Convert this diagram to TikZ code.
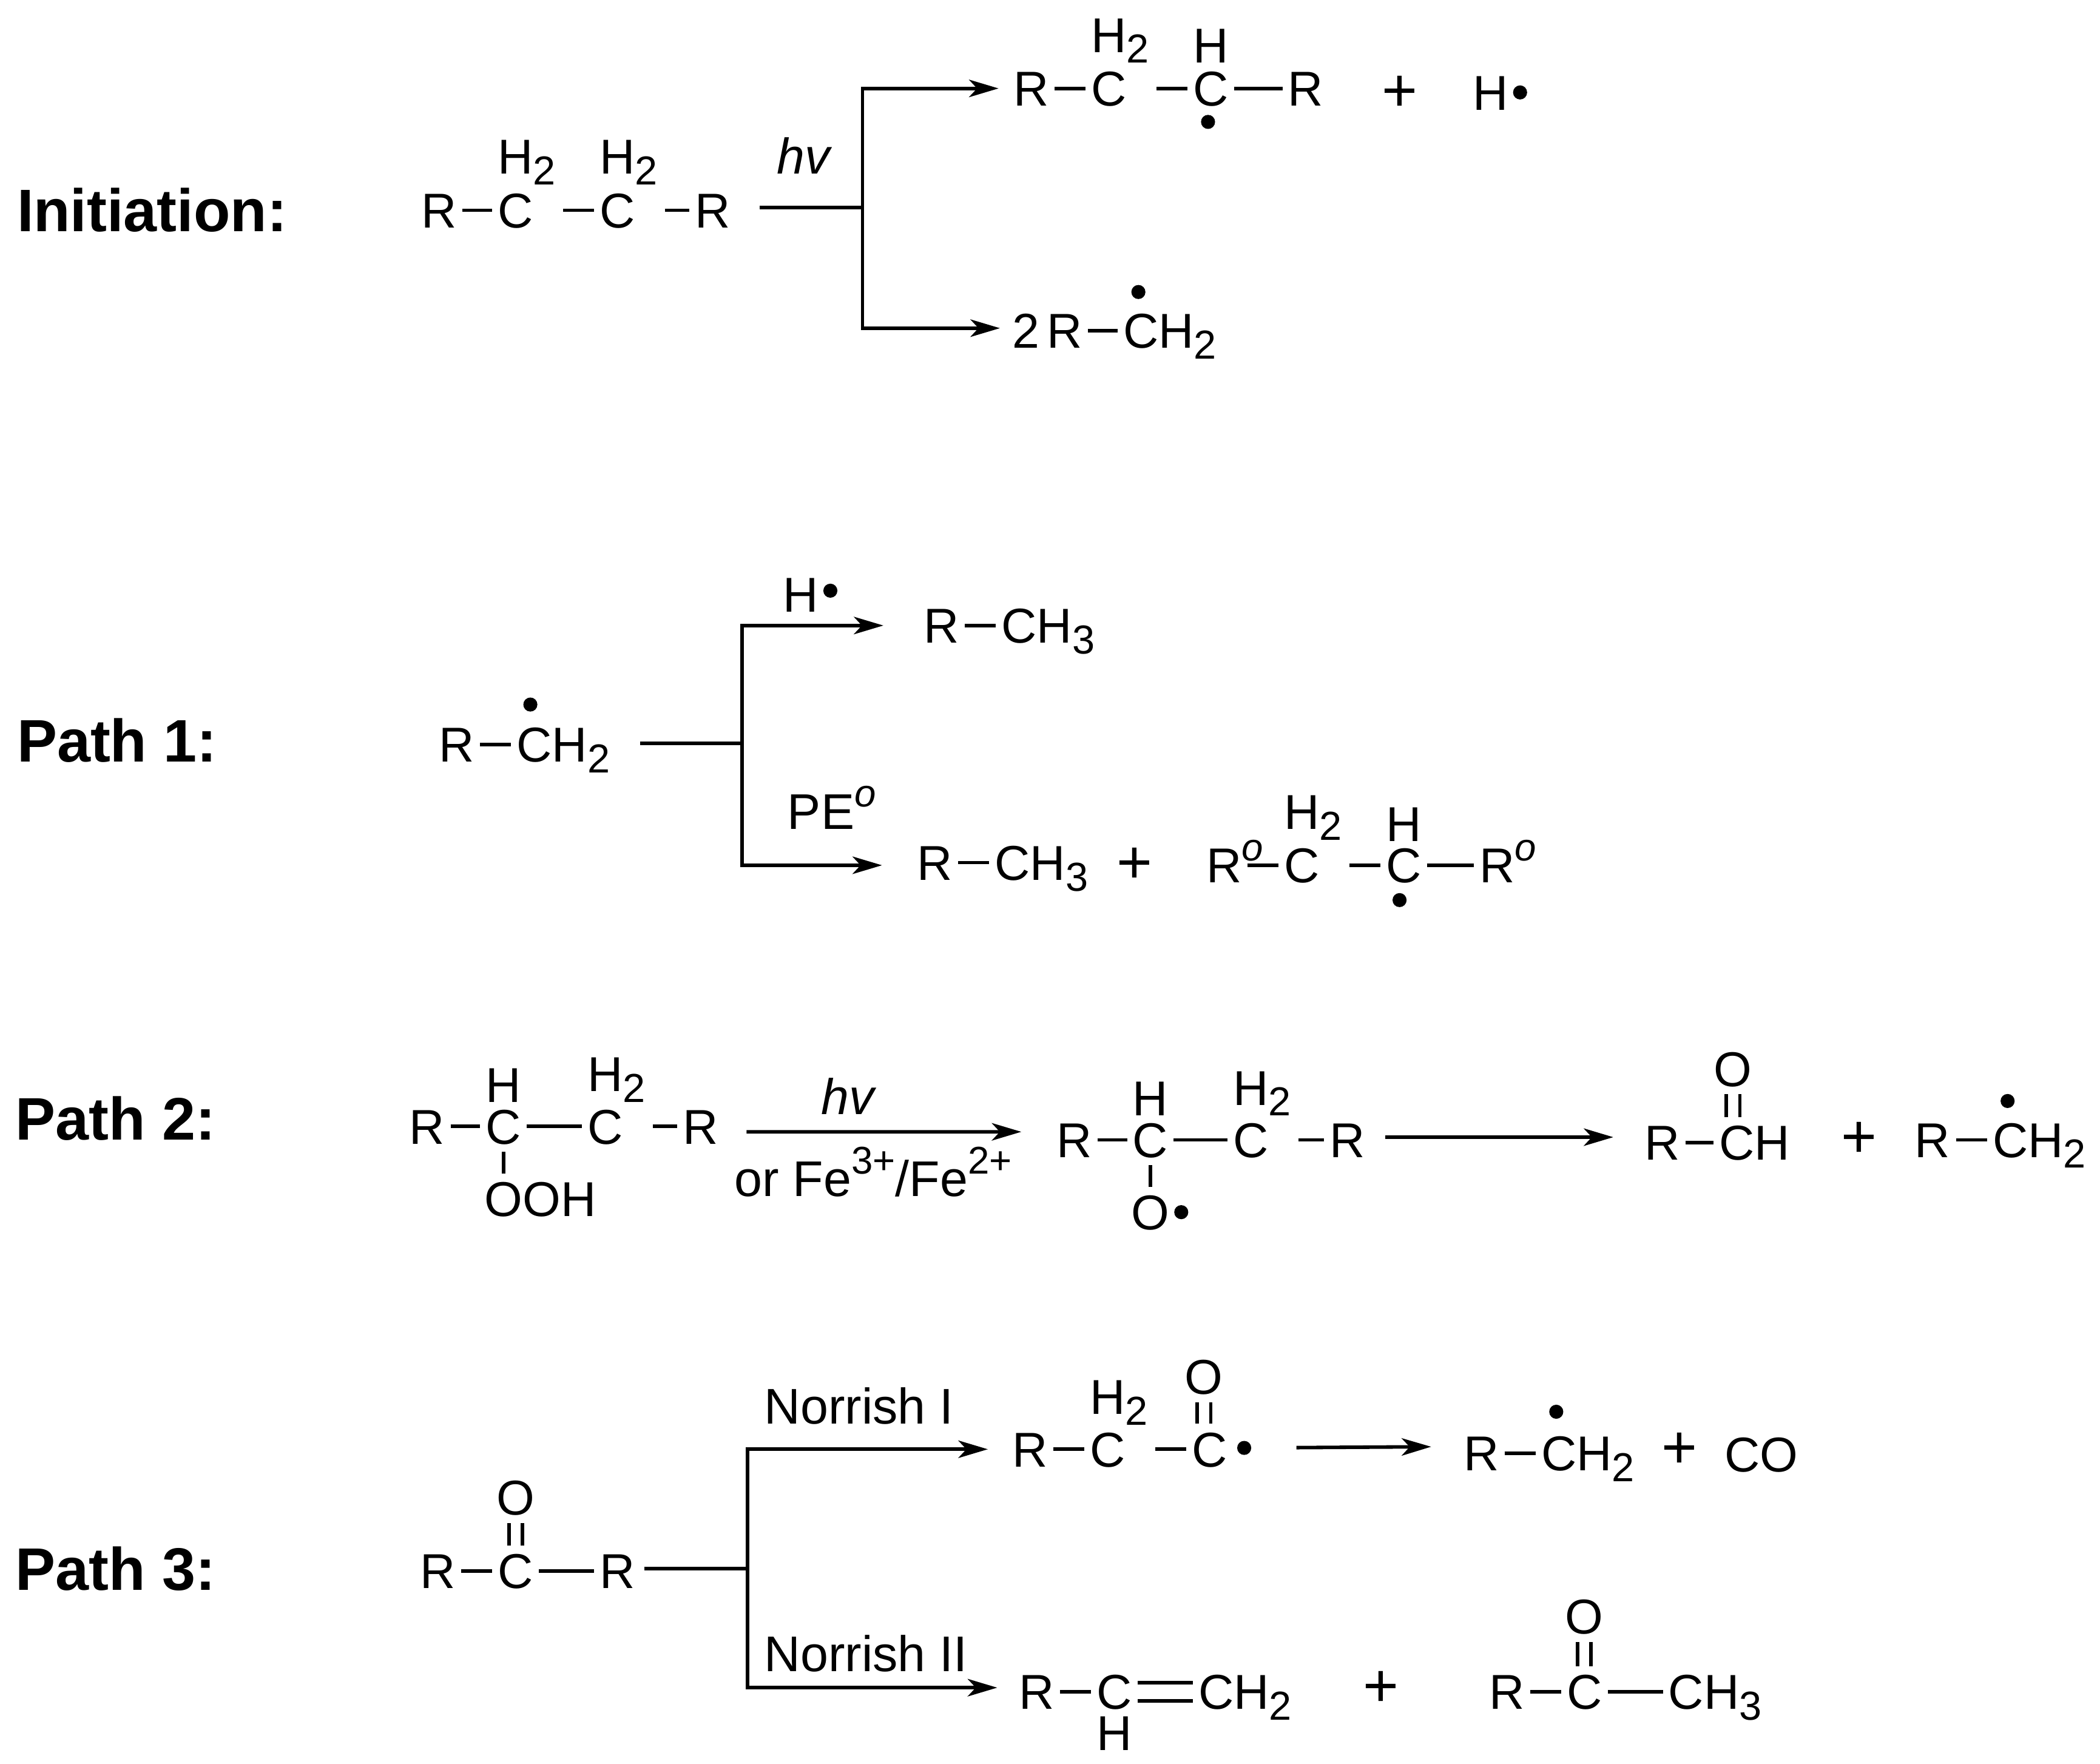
\documentclass[tikz,border=0pt]{standalone}
\usepackage{fontspec}
\setmainfont{Liberation Sans}
\usetikzlibrary{arrows.meta}
\newcommand{\subs}[1]{\raisebox{-2.3pt}{\fontsize{8.6}{9}\selectfont #1}}
\newcommand{\sups}[1]{\raisebox{4.7pt}{\fontsize{8.2}{9}\selectfont #1}}
\tikzset{atom/.style = {inner xsep=1pt, inner ysep=1.5pt, text height=7.4pt, text depth=0pt, font=\fontsize{10.4}{12}\selectfont},
         lbl/.style = {inner sep=0pt, anchor=base, font=\fontsize{10.65}{12}\selectfont},
         titl/.style = {inner sep=0pt, anchor=base west, font=\fontsize{12.75}{14}\selectfont\bfseries},
         plus/.style = {inner sep=0pt, font=\fontsize{13}{14}\selectfont},
         rad/.style = {circle, fill=black, inner sep=0pt, minimum size=1.05mm},
         bond/.style = {line width=.75pt},
         dbond/.style = {line width=.75pt, double, double distance=.75mm},
         hbond/.style = {line width=.75pt, double, double distance=1.1mm},
         gapb/.style = {shorten <=1.8mm},
         rxn/.style = {line width=.75pt, -{Stealth[length=2.2mm,width=1.3mm,inset=.6mm]}}}
\begin{document}
\begin{tikzpicture}[x=.1mm,y=-.1mm]
    \useasboundingbox(0,0)rectangle(1568,1317);

    % initiation
    \node[titl](tI)at(12,173){Initiation:};
    \node[atom](iR1)at(328,157){R};
    \node[atom](iC1)at(385,157){C};
    \node[atom](iH1)at(385,117){H\rlap{\subs{2}}};
    \node[atom](iC2)at(461,157){C};
    \node[atom](iH2)at(461,117){H\rlap{\subs{2}}};
    \node[atom](iR2)at(532,157){R};
    \draw[bond](iR1.east)--(iC1.west);
    \draw[bond,gapb](iC1.east)--(iC2.west);
    \draw[bond,gapb](iC2.east)--(iR2.west);
    \node[lbl](ihv)at(601,130){\textit{hv}};
    \coordinate(is)at(567,155);
    \coordinate(ij)at(644,155);
    \draw[bond](is)--(ij);

    \node[atom](aR1)at(770,66){R};
    \node[atom](aC1)at(828,66){C};
    \node[atom](aH1)at(828,26){H\rlap{\subs{2}}};
    \node[atom](aC2)at(904,66){C};
    \node[atom](aH2)at(904,34){H};
    \node[rad](aD1)at(902,91){};
    \node[atom](aR2)at(975,66){R};
    \node[plus](aP)at(1045,70){+};
    \node[atom](aH3)at(1113,69){H};
    \node[rad](aD2)at(1135,69){};
    \draw[bond](aR1.east)--(aC1.west);
    \draw[bond,gapb](aC1.east)--(aC2.west);
    \draw[bond](aC2.east)--(aR2.west);
    \draw[rxn,shorten >=.7mm](ij)|-(aR1.west);

    \node[atom](bN)at(766,247){2};
    \node[atom](bR)at(795,247){R};
    \node[atom](bC)at(852,247){C\rlap{H\subs{2}}};
    \node[rad](bD)at(850,218){};
    \draw[bond](bR.east)--(bC.west);
    \draw[rxn,shorten >=.5mm](ij)|-([yshift=.2mm]bN.west);

    % path 1
    \node[titl](t1)at(12,569){Path 1:};
    \node[atom](pR)at(341,556){R};
    \node[atom](pC)at(399,556){C\rlap{H\subs{2}}};
    \node[rad](pD)at(396,526){};
    \draw[bond](pR.east)--(pC.west);
    \coordinate(ps)at(478,555);
    \coordinate(pj)at(554,555);
    \draw[bond](ps)--(pj);

    \node[atom](cH)at(598,444){H};
    \node[rad](cD)at(620,441){};
    \node[atom](cR)at(703,467){R};
    \node[atom](cC)at(761,467){C\rlap{H\subs{3}}};
    \draw[bond](cR.east)--(cC.west);
    \draw[rxn,shorten >=2.6mm](pj)|-(cR.west);

    \node[lbl](dPE)at(621,619){PE\sups{\textit{o}}};
    \node[atom](dR)at(698,644){R};
    \node[atom](dC)at(756,644){C\rlap{H\subs{3}}};
    \node[plus](dP)at(847,646){+};
    \node[atom](dR1)at(914,646){R\rlap{\sups{\textit{o}}}};
    \node[atom](dC1)at(972,646){C};
    \node[atom](dH1)at(972,606){H\rlap{\subs{2}}};
    \node[atom](dC2)at(1048,646){C};
    \node[atom](dH2)at(1048,615){H};
    \node[rad](dD)at(1045,672){};
    \node[atom](dR2)at(1118,646){R\rlap{\sups{\textit{o}}}};
    \draw[bond](dR.east)--(dC.west);
    \draw[bond](dR1.east)--(dC1.west);
    \draw[bond,gapb](dC1.east)--(dC2.west);
    \draw[bond](dC2.east)--(dR2.west);
    \draw[rxn,shorten >=2.2mm](pj)|-([yshift=-.2mm]dR.west);

    % path 2
    \node[titl](t2)at(11,851){Path 2:};
    \node[atom](eR1)at(319,841){R};
    \node[atom](eC1)at(376,841){C};
    \node[atom](eH1)at(376,810){H};
    \node[atom](eC2)at(452,841){C};
    \node[atom](eH2)at(452,802){H\rlap{\subs{2}}};
    \node[atom](eR2)at(523,841){R};
    \node[atom](eO)at(376,895){O\rlap{OH}};
    \draw[bond](eR1.east)--(eC1.west);
    \draw[bond](eC1.east)--(eC2.west);
    \draw[bond,gapb](eC2.east)--(eR2.west);
    \draw[bond](eC1.south)--(eO.north);
    \node[lbl](ehv)at(634,832){\textit{hv}};
    \node[lbl](eFe)at(652,893){or Fe\sups{3+}/Fe\sups{2+}};

    \node[atom](fR1)at(802,851){R};
    \node[atom](fC1)at(859,851){C};
    \node[atom](fH1)at(859,820){H};
    \node[atom](fC2)at(934,851){C};
    \node[atom](fH2)at(934,812){H\rlap{\subs{2}}};
    \node[atom](fR2)at(1006,851){R};
    \node[atom](fO)at(859,905){O};
    \node[rad](fD)at(882,905){};
    \draw[bond](fR1.east)--(fC1.west);
    \draw[bond](fC1.east)--(fC2.west);
    \draw[bond,gapb](fC2.east)--(fR2.west);
    \draw[bond](fC1.south)--(fO.north);
    \draw[rxn,shorten <=1.7mm,shorten >=2.2mm]([yshift=-.4mm]eR2.east)--([yshift=.6mm]fR1.west);

    \node[atom](gR)at(1241,853){R};
    \node[atom](gC)at(1297,853){C\rlap{H}};
    \node[atom](gO)at(1294,798){O};
    \node[plus](gP)at(1388,851){+};
    \node[atom](hR)at(1443,851){R};
    \node[atom](hC)at(1501,851){C\rlap{H\subs{2}}};
    \node[rad](hD)at(1499,822){};
    \draw[bond](gR.east)--(gC.west);
    \draw[dbond](gO.south)--(gO.south|-gC.north);
    \draw[bond](hR.east)--(hC.west);
    \draw[rxn,shorten <=1.1mm,shorten >=1.9mm]([yshift=.2mm]fR2.east)--([yshift=.4mm]gR.west);

    % path 3
    \node[titl](t3)at(11,1187){Path 3:};
    \node[atom](kR1)at(327,1173){R};
    \node[atom](kC)at(385,1173){C};
    \node[atom](kO)at(385,1118){O};
    \node[atom](kR2)at(461,1173){R};
    \draw[bond](kR1.east)--(kC.west);
    \draw[bond](kC.east)--(kR2.west);
    \draw[dbond](kC.north)--(kO.south);
    \coordinate(ks)at(481,1171);
    \coordinate(kj)at(558,1171);
    \draw[bond](ks)--(kj);

    \node[lbl,anchor=base west](mN)at(570,1063){Norrish I};
    \node[atom](mR)at(769,1082){R};
    \node[atom](mC1)at(827,1082){C};
    \node[atom](mH)at(827,1043){H\rlap{\subs{2}}};
    \node[atom](mC2)at(903,1082){C};
    \node[atom](mO)at(899,1028){O};
    \node[rad](mD)at(929,1081){};
    \draw[bond](mR.east)--(mC1.west);
    \draw[bond,gapb](mC1.east)--(mC2.west);
    \draw[dbond](mO.south)--(mO.south|-mC2.north);
    \draw[rxn,shorten >=1.4mm](kj)|-(mR.west);

    \node[atom](qR)at(1106,1085){R};
    \node[atom](qC)at(1164,1085){C\rlap{H\subs{2}}};
    \node[rad](qD)at(1162,1054){};
    \node[plus](qP)at(1254,1083){+};
    \node[atom](qCO)at(1315,1086){CO};
    \draw[bond](qR.east)--(qC.west);
    \draw[rxn,shorten <=3.3mm,shorten >=2mm](mD.east)--([yshift=.5mm]qR.west);

    \node[lbl,anchor=base west](nN)at(570,1248){Norrish II};
    \node[atom](nR)at(774,1263){R};
    \node[atom](nC)at(832,1263){C};
    \node[atom](nH)at(832,1294){H};
    \node[atom](nC2)at(908,1263){C\rlap{H\subs{2}}};
    \node[plus](nP)at(1031,1261){+};
    \node[atom](rR)at(1125,1263){R};
    \node[atom](rC)at(1183,1263){C};
    \node[atom](rO)at(1183,1207){O};
    \node[atom](rC2)at(1259,1263){C\rlap{H\subs{3}}};
    \draw[bond](nR.east)--(nC.west);
    \draw[hbond](nC.east)--(nC2.west);
    \draw[bond](rR.east)--(rC.west);
    \draw[bond](rC.east)--(rC2.west);
    \draw[dbond](rC.north)--(rO.south);
    \draw[rxn,shorten >=1.2mm](kj)|-([yshift=.3mm]nR.west);
\end{tikzpicture}
\end{document}
